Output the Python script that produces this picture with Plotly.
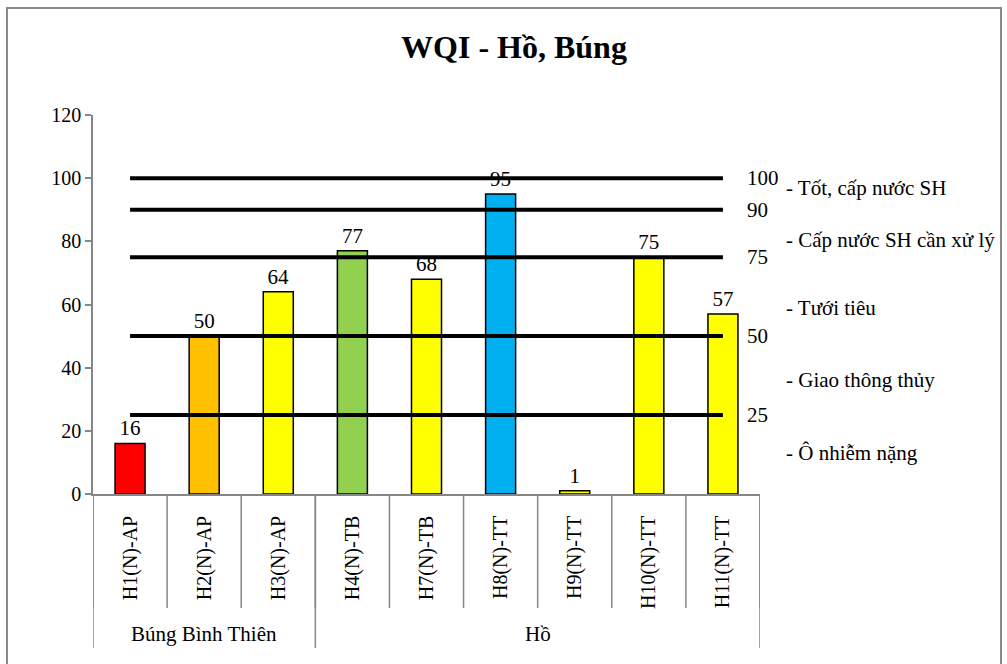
import plotly.graph_objects as go

# Sampling stations, their groups and WQI scores
stations = ["H1(N)-AP", "H2(N)-AP", "H3(N)-AP", "H4(N)-TB", "H7(N)-TB",
            "H8(N)-TT", "H9(N)-TT", "H10(N)-TT", "H11(N)-TT"]
wqi = [16, 50, 64, 77, 68, 95, 1, 75, 57]
bar_colors = ["#FF0000", "#FFC000", "#FFFF00", "#92D050", "#FFFF00",
              "#00B0F0", "#FFFF00", "#FFFF00", "#FFFF00"]

groups = ["Búng Bình Thiên", "Hồ"]
group_sizes = [3, 6]

# WQI class thresholds and class descriptions
thresholds = [100, 90, 75, 50, 25]
class_names = ["- Tốt, cấp nước SH", "- Cấp nước SH cần xử lý", "- Tưới tiêu",
               "- Giao thông thủy", "- Ô nhiễm nặng"]
class_label_y = [96.9, 80.4, 58.9, 36.1, 13.0]

FONT = "Liberation Serif, Times New Roman, serif"
AXIS_GRAY = "#868686"

# Figure geometry (pixels)
W, H = 1007, 664
L, R, T, B = 93, 247, 115, 170
PW, PH = W - L - R, H - T - B


def px_x(x):
    return (x - L) / PW


def px_y(y):
    return (H - B - y) / PH


fig = go.Figure()

fig.add_trace(go.Bar(
    x=stations, y=wqi,
    marker=dict(color=bar_colors, line=dict(color="black", width=1.5)),
    text=[str(v) for v in wqi], textposition="outside",
    textfont=dict(family=FONT, size=21, color="black"),
    cliponaxis=False, showlegend=False,
))

for t in thresholds:
    fig.add_trace(go.Scatter(
        x=[stations[0], stations[-1]], y=[t, t], mode="lines",
        line=dict(color="black", width=4), showlegend=False, hoverinfo="skip",
    ))

annotations = []
for t in thresholds:
    annotations.append(dict(
        x=px_x(745), xref="paper", y=t, yref="y", text=str(t),
        showarrow=False, xanchor="left", yanchor="middle",
        font=dict(family=FONT, size=21, color="black"),
    ))
for name, yv in zip(class_names, class_label_y):
    annotations.append(dict(
        x=px_x(784), xref="paper", y=yv, yref="y", text=name,
        showarrow=False, xanchor="left", yanchor="middle",
        font=dict(family=FONT, size=21, color="black"),
    ))

# Category separators below the axis and the group row
shapes = []
n = len(stations)
for i in range(n + 1):
    shapes.append(dict(
        type="line", xref="x", yref="paper", x0=i - 0.5, x1=i - 0.5,
        y0=0, y1=px_y(608), line=dict(color=AXIS_GRAY, width=1.5),
    ))
start = 0
for g, size in zip(groups, group_sizes):
    shapes.append(dict(
        type="line", xref="x", yref="paper", x0=start - 0.5, x1=start - 0.5,
        y0=0, y1=px_y(648), line=dict(color=AXIS_GRAY, width=1.5),
    ))
    annotations.append(dict(
        x=start + (size - 1) / 2, xref="x", y=px_y(634), yref="paper", text=g,
        showarrow=False, xanchor="center", yanchor="middle",
        font=dict(family=FONT, size=21, color="black"),
    ))
    start += size
shapes.append(dict(
    type="line", xref="x", yref="paper", x0=n - 0.5, x1=n - 0.5,
    y0=0, y1=px_y(648), line=dict(color=AXIS_GRAY, width=1.5),
))

# Chart-area border
shapes.append(dict(
    type="rect", xref="paper", yref="paper",
    x0=px_x(7), x1=px_x(1001), y0=px_y(700), y1=px_y(8),
    line=dict(color="#8A8A8A", width=2), fillcolor="rgba(0,0,0,0)",
))

fig.update_layout(
    width=W, height=H,
    margin=dict(l=L, r=R, t=T, b=B, pad=0),
    paper_bgcolor="white", plot_bgcolor="white",
    font=dict(family=FONT, size=20, color="black"),
    title=dict(text="<b>WQI - Hồ, Búng</b>", x=px_x(514), xref="paper",
               xanchor="center", y=1 - 47 / H, yref="container", yanchor="middle",
               font=dict(family=FONT, size=32, color="black")),
    bargap=0.595,
    xaxis=dict(type="category", range=[-0.5, n - 0.5], tickangle=-90,
               showline=True, linecolor=AXIS_GRAY, linewidth=1.5,
               ticks="", ticklabelstandoff=12, showgrid=False,
               tickfont=dict(family=FONT, size=20, color="black"), fixedrange=True),
    yaxis=dict(range=[0, 120], dtick=20, showline=True, linecolor=AXIS_GRAY,
               linewidth=1.5, ticks="outside", ticklen=6, tickcolor=AXIS_GRAY,
               tickwidth=1.5, showgrid=False, zeroline=False,
               tickfont=dict(family=FONT, size=20, color="black"), fixedrange=True),
    annotations=annotations, shapes=shapes,
)

fig.write_html("out.html")
